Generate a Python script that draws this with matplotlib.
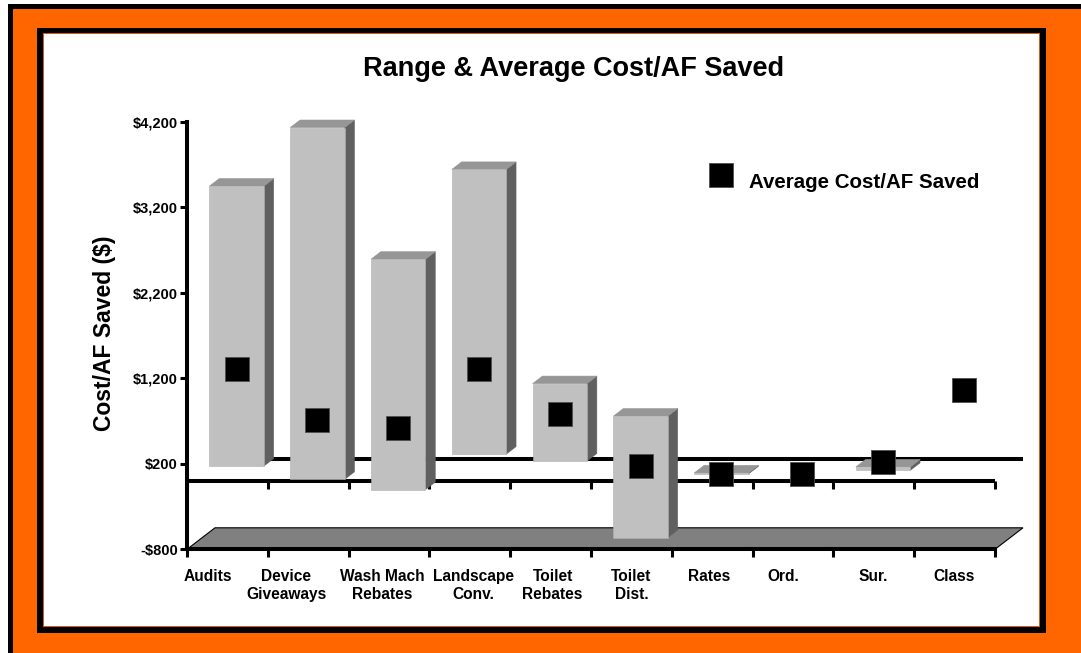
import matplotlib
matplotlib.use('Agg')
import matplotlib.pyplot as plt
import matplotlib.transforms as mtransforms
from matplotlib.patches import Rectangle, Polygon
import numpy as np

plt.rcParams['font.family'] = ['Liberation Sans', 'DejaVu Sans']
plt.rcParams['font.weight'] = 'bold'

# ---- data -------------------------------------------------------------
categories = ['Audits', 'Device\nGiveaways', 'Wash Mach\nRebates', 'Landscape\nConv.',
              'Toilet\nRebates', 'Toilet\nDist.', 'Rates', 'Ord.', 'Sur.', 'Class']
range_low = [90, -65, -185, 230, 150, -745, 0, np.nan, 40, np.nan]
range_high = [3365, 4050, 2510, 3560, 1055, 675, 10, np.nan, 80, np.nan]
average_cost = [1225, 630, 530, 1225, 695, 90, 0, 0, 140, 980]
y_ticks = [-800, 200, 1200, 2200, 3200, 4200]
y_tick_labels = ['-$800', '$200', '$1,200', '$2,200', '$3,200', '$4,200']

# ---- figure & frame ----------------------------------------------------
W, H = 1081, 653
ORANGE = '#FF6600'
fig = plt.figure(figsize=(W / 100, H / 100), dpi=100)
fig.patch.set_facecolor('white')

bg = fig.add_axes([0, 0, 1, 1])
bg.set_xlim(0, W)
bg.set_ylim(H, 0)
bg.axis('off')
bg.add_patch(Rectangle((8, 4), W, H, facecolor='black', edgecolor='none'))
bg.add_patch(Rectangle((13, 9), W, H, facecolor=ORANGE, edgecolor='none'))
bg.add_patch(Rectangle((37, 28), 1046 - 37, 633 - 28, facecolor='black', edgecolor='none'))
bg.add_patch(Rectangle((43, 33), 1040 - 43, 627 - 33, facecolor='#D85A10', edgecolor='none'))
bg.add_patch(Rectangle((44, 34), 1039 - 44, 626 - 34, facecolor='white', edgecolor='none'))

# ---- main axes (front plane of the 3-D box) ---------------------------
ax = fig.add_axes([187 / W, 1 - 549.3 / H, 808 / W, 427.5 / H])
ax.patch.set_visible(False)
n = len(categories)
ax.set_xlim(0, n)
ax.set_ylim(y_ticks[0], y_ticks[-1])

for s in ('top', 'right'):
    ax.spines[s].set_visible(False)
for s in ('left', 'bottom'):
    ax.spines[s].set_linewidth(2.9)
    ax.spines[s].set_color('black')

ax.set_yticks(y_ticks)
ax.set_yticklabels(y_tick_labels)
ax.set_xticks(range(n + 1))
ax.tick_params(axis='x', direction='out', length=5.8, width=2.2, labelbottom=False)
ax.tick_params(axis='y', direction='out', length=5.0, width=2.2, pad=1.5,
               labelsize=10.5)

# oblique depth of the box, in data units
px_x = 808 / n
px_y = 427.5 / (y_ticks[-1] - y_ticks[0])
DX = 28 / px_x
DY = 21.5 / px_y
F_FRONT, F_BACK = 0.33, 0.68
BAR_W = 54.4 / px_x

# floor
floor = Polygon([(0, y_ticks[0]), (n, y_ticks[0]), (n + DX, y_ticks[0] + DY),
                 (DX, y_ticks[0] + DY)], closed=True, facecolor='#808080',
                edgecolor='black', linewidth=0.8, zorder=1, clip_on=False)
ax.add_patch(floor)

# zero line on the back and on the front of the box
ax.plot([DX, n + DX], [DY, DY], color='black', lw=2.9, zorder=2,
        clip_on=False, solid_capstyle='butt')
ax.plot([0, n], [0, 0], color='black', lw=2.9, zorder=2, clip_on=False,
        solid_capstyle='butt')
ax.plot(range(n + 1), [0] * (n + 1), ls='none', marker=3, ms=5.8, mew=2.2,
        color='black', zorder=2, clip_on=False)

# floating range columns
FRONT_C, TOP_C, SIDE_C = '#C0C0C0', '#969696', '#606060'
for i, (lo, hi) in enumerate(zip(range_low, range_high)):
    if np.isnan(lo) or np.isnan(hi):
        continue
    c = i + 0.5
    xl_f = c - BAR_W / 2 + F_FRONT * DX
    xr_f = c + BAR_W / 2 + F_FRONT * DX
    xl_b = c - BAR_W / 2 + F_BACK * DX
    xr_b = c + BAR_W / 2 + F_BACK * DX
    lo_f, hi_f = lo + F_FRONT * DY, hi + F_FRONT * DY
    lo_b, hi_b = lo + F_BACK * DY, hi + F_BACK * DY
    side = Polygon([(xr_f, lo_f), (xr_b, lo_b), (xr_b, hi_b), (xr_f, hi_f)],
                   facecolor=SIDE_C, edgecolor=SIDE_C, lw=0.4, zorder=3, clip_on=False)
    top = Polygon([(xl_f, hi_f), (xr_f, hi_f), (xr_b, hi_b), (xl_b, hi_b)],
                  facecolor=TOP_C, edgecolor=TOP_C, lw=0.4, zorder=3, clip_on=False)
    front = Rectangle((xl_f, lo_f), xr_f - xl_f, hi_f - lo_f, facecolor=FRONT_C,
                      edgecolor='#B0B0B0', lw=0.4, zorder=3, clip_on=False)
    for p in (side, top, front):
        ax.add_patch(p)

# average markers
xm = np.arange(n) + 0.5 + F_FRONT * DX
ym = np.array(average_cost) + F_FRONT * DY
ax.plot(xm, ym, ls='none', marker='s', ms=17, color='black', mec='#505050',
        mew=0.6, zorder=10, clip_on=False)

# category labels
label_nudge_px = [-20, -22, -7, 4, 2, 0, -3, -10, -1, -1]
blend = mtransforms.blended_transform_factory(ax.transData, ax.transAxes)
for i, (lab, dx) in enumerate(zip(categories, label_nudge_px)):
    tr = mtransforms.offset_copy(blend, fig=fig, x=dx * 0.72, y=-14.3, units='points')
    ax.text(i + 0.5, 0, lab, transform=tr, ha='center', va='top',
            multialignment='center', fontsize=11.2, fontweight='bold')

# titles
fig.text(573.5 / W, 1 - 75.5 / H, 'Range & Average Cost/AF Saved', ha='center',
         va='baseline', fontsize=19.5, fontweight='bold')
fig.text(105 / W, 1 - 333 / H, 'Cost/AF Saved ($)', rotation=90, ha='center',
         va='center', fontsize=16.5, fontweight='bold')

# legend
bg.plot([721], [175], ls='none', marker='s', ms=17, color='black', mec='#505050', mew=0.6)
bg.text(749, 188, 'Average Cost/AF Saved', va='baseline', ha='left', fontsize=14.8,
        fontweight='bold')

fig.savefig('out.png', dpi=100)
